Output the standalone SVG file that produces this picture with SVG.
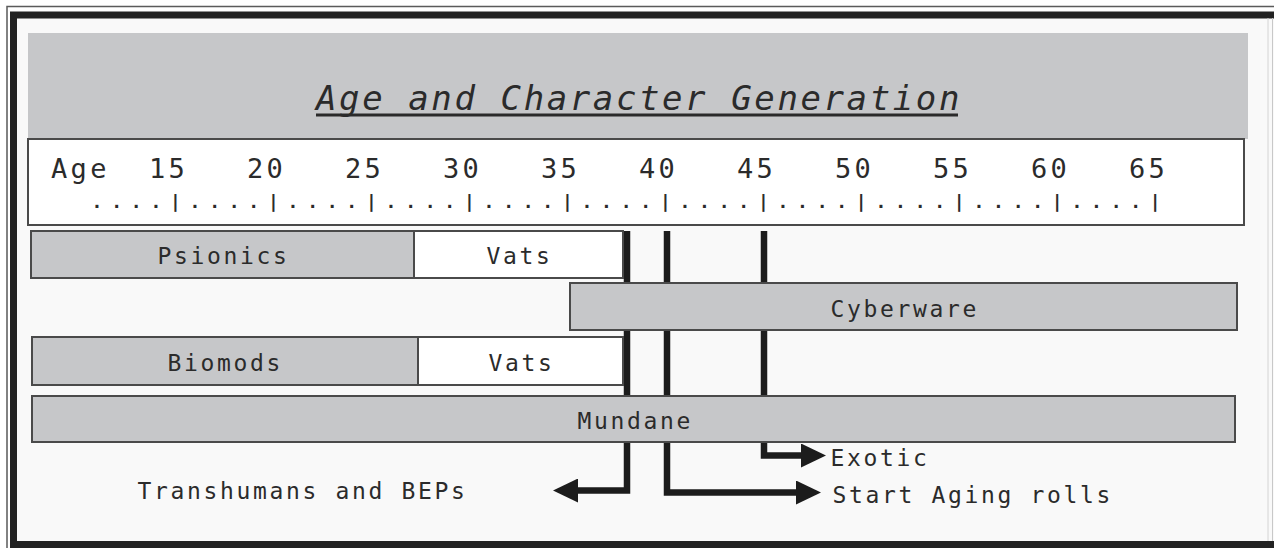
<svg xmlns="http://www.w3.org/2000/svg" width="1274" height="548" viewBox="0 0 1274 548">
  <defs>
    <style>
      .mono { font-family: "DejaVu Sans Mono", "Liberation Mono", monospace; fill: #2b2b2b; }
      .lbl { font-size: 23px; letter-spacing: 2.65px; }
      .age { font-size: 27px; letter-spacing: 3.35px; }
      .bar { fill: #c6c7c9; stroke: #4a4a4a; stroke-width: 2; }
      .vat { fill: #ffffff; stroke: #4a4a4a; stroke-width: 2; }
      .conn { fill: none; stroke: #1c1c1c; stroke-width: 6.5; stroke-linejoin: miter; stroke-linecap: butt; }
    </style>
    <marker id="arrow" markerUnits="userSpaceOnUse" markerWidth="26" markerHeight="24" refX="0" refY="12" orient="auto" viewBox="0 0 26 24">
      <path d="M0,0 L25,12 L0,24 z" fill="#1c1c1c"/>
    </marker>
  </defs>

  <!-- background and frame -->
  <rect x="0" y="0" width="1274" height="548" fill="#ffffff"/>
  <rect x="17" y="18" width="1257" height="524" fill="#f9f9f9"/>
  <path d="M7,548 V6.5 H1274" fill="none" stroke="#5a5a5a" stroke-width="1.5"/>
  <path d="M13.5,548 V15 H1274" fill="none" stroke="#222222" stroke-width="7"/>
  <line x1="10" y1="544.5" x2="1274" y2="544.5" stroke="#222222" stroke-width="7"/>
  <line x1="1268" y1="18" x2="1268" y2="541" stroke="#d4d4d4" stroke-width="1"/>
  <line x1="1272.5" y1="18" x2="1272.5" y2="541" stroke="#c8c8c8" stroke-width="1"/>

  <!-- title -->
  <g id="title">
    <rect x="28" y="33" width="1220" height="106" fill="#c6c7c9"/>
    <text x="316" y="110" class="mono" font-size="34" font-style="italic" letter-spacing="2.6" fill="#222">Age and Character Generation</text>
    <line x1="316" y1="115" x2="958" y2="115" stroke="#2a2a2a" stroke-width="3"/>
  </g>

  <!-- age scale -->
  <g id="age-scale">
    <rect x="28" y="139" width="1216" height="86" fill="#ffffff" stroke="#4a4a4a" stroke-width="2"/>
    <text x="51" y="178" class="mono age">Age</text>
    <text x="149" y="178" class="mono age">15</text>
    <text x="247" y="178" class="mono age">20</text>
    <text x="345" y="178" class="mono age">25</text>
    <text x="443" y="178" class="mono age">30</text>
    <text x="541" y="178" class="mono age">35</text>
    <text x="639" y="178" class="mono age">40</text>
    <text x="737" y="178" class="mono age">45</text>
    <text x="835" y="178" class="mono age">50</text>
    <text x="933" y="178" class="mono age">55</text>
    <text x="1031" y="178" class="mono age">60</text>
    <text x="1129" y="178" class="mono age">65</text>
    <text x="91.6" y="208" class="mono" font-size="18" font-weight="bold" letter-spacing="8.76">....|....|....|....|....|....|....|....|....|....|....|</text>
  </g>

  <!-- connectors (behind the bars) -->
  <g id="connectors">
    <path class="conn" d="M627,231 V490.5 H578" marker-end="url(#arrow)"/>
    <path class="conn" d="M667,231 V492.5 H796" marker-end="url(#arrow)"/>
    <path class="conn" d="M764,231 V455.5 H801" marker-end="url(#arrow)"/>
  </g>

  <g id="psionics">
    <rect class="bar" x="31" y="231" width="383" height="47"/>
    <text x="157.5" y="264" class="mono lbl">Psionics</text>
  </g>
  <g id="vats-1">
    <rect class="vat" x="414" y="231" width="209" height="47"/>
    <text x="486.5" y="264" class="mono lbl">Vats</text>
  </g>
  <g id="cyberware">
    <rect class="bar" x="570" y="283" width="667" height="47"/>
    <text x="830.5" y="317" class="mono lbl">Cyberware</text>
  </g>
  <g id="biomods">
    <rect class="bar" x="32" y="337" width="386" height="48"/>
    <text x="167.5" y="371" class="mono lbl">Biomods</text>
  </g>
  <g id="vats-2">
    <rect class="vat" x="418" y="337" width="205" height="48"/>
    <text x="488.5" y="371" class="mono lbl">Vats</text>
  </g>
  <g id="mundane">
    <rect class="bar" x="32" y="396" width="1203" height="46"/>
    <text x="577.5" y="429" class="mono lbl">Mundane</text>
  </g>
  <g id="exotic">
    <text x="830.5" y="466" class="mono lbl">Exotic</text>
  </g>
  <g id="start-aging">
    <text x="832.5" y="503" class="mono lbl">Start Aging rolls</text>
  </g>
  <g id="transhumans">
    <text x="137.5" y="499" class="mono lbl">Transhumans and BEPs</text>
  </g>
</svg>
